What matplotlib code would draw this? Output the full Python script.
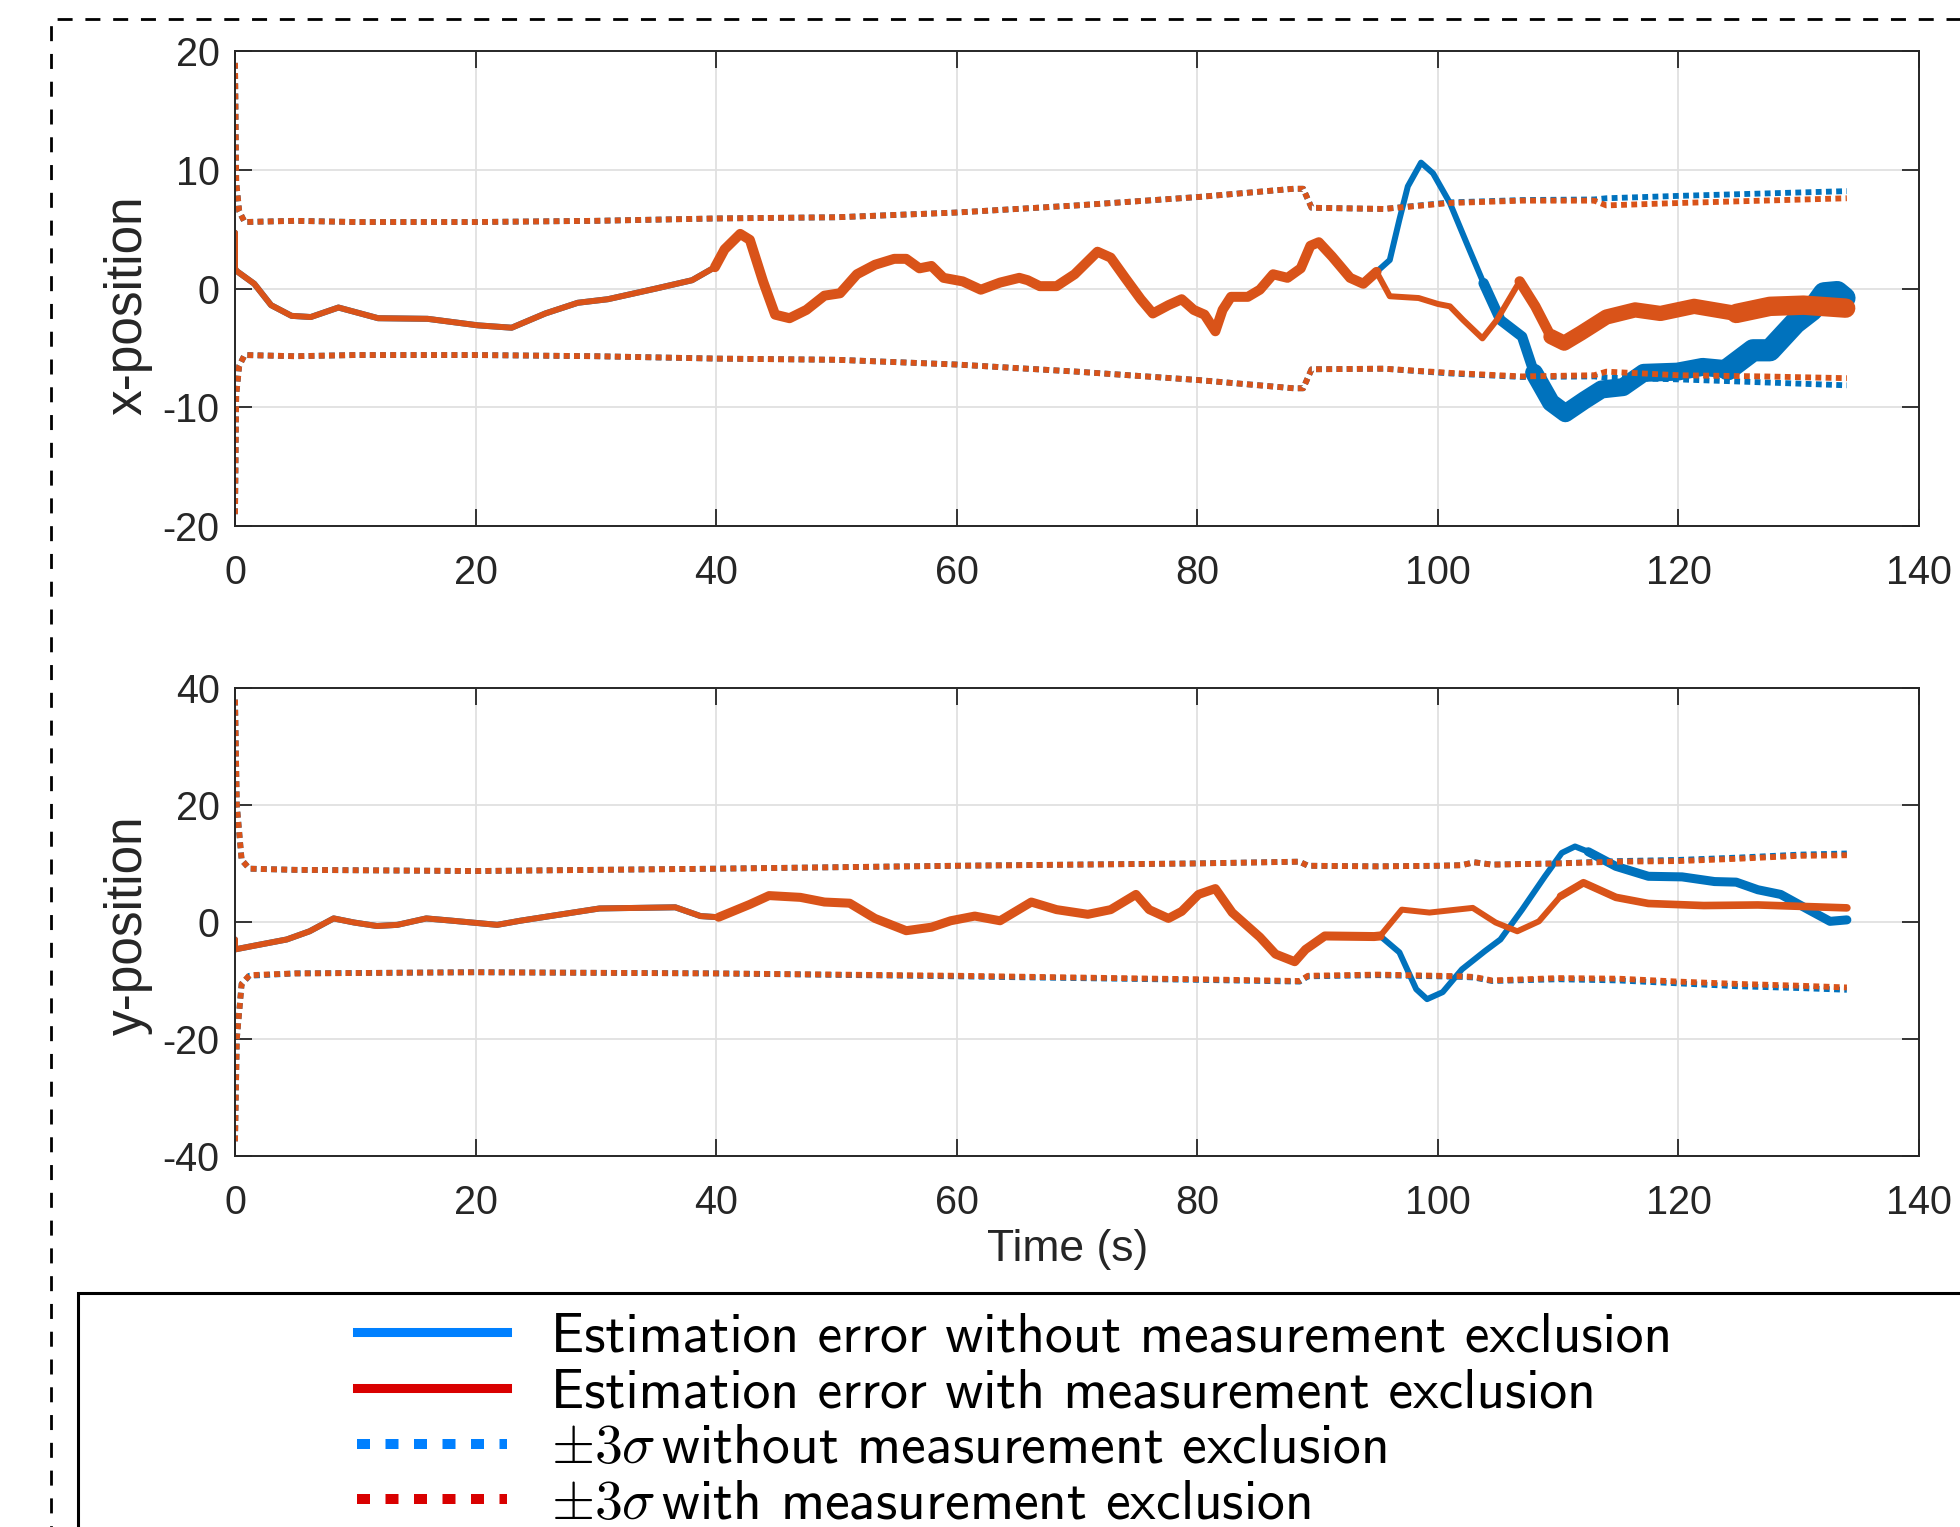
import matplotlib.pyplot as plt
import numpy as np
from matplotlib.lines import Line2D
from matplotlib.patches import Rectangle

plt.rcParams["font.family"] = ["Liberation Sans", "DejaVu Sans"]
plt.rcParams["axes.unicode_minus"] = False
plt.rcParams["mathtext.fontset"] = "cm"

BLUE = "#0072bd"
ORANGE = "#d95319"

# ---- x-position ----
x_t_with = [0, 0, 0.1, 1.6, 3.0, 4.7, 6.3, 8.6, 11.9, 16.0, 20.2, 23.0, 25.8, 28.5, 31.0, 35.0, 38.0,
            39.9, 40.7, 42.0, 42.8, 43.9, 44.9, 46.1, 47.5, 49.0, 50.3, 51.7, 53.2, 54.8, 55.8, 56.9,
            57.9, 58.9, 60.5, 62.0, 63.6, 65.2, 65.9, 66.9, 68.3, 69.8, 71.7, 72.8, 74.0, 75.3, 76.3,
            77.6, 78.7, 79.7, 80.6, 81.5, 82.1, 82.8, 84.2, 85.2, 86.3, 87.5, 88.6, 89.4, 90.1, 91.2,
            92.7, 93.8, 94.9, 96.0, 98.4, 100.0, 101.0, 102.1, 103.7, 104.9, 106.8, 108.1, 109.4,
            110.5, 111.9, 114.0, 116.4, 118.5, 121.3, 124.8, 127.6, 130.4, 133.9]
x_err_with = [4.7, 1.7, 1.5, 0.4, -1.4, -2.3, -2.4, -1.6, -2.5, -2.55, -3.1, -3.3, -2.1, -1.2, -0.9, 0.0, 0.7,
              1.8, 3.3, 4.6, 4.1, 0.6, -2.2, -2.5, -1.8, -0.6, -0.4, 1.2, 2.0, 2.5, 2.5, 1.7,
              1.9, 0.9, 0.6, -0.1, 0.5, 0.9, 0.7, 0.2, 0.2, 1.2, 3.1, 2.6, 0.9, -0.9, -2.1,
              -1.4, -0.9, -1.8, -2.2, -3.6, -1.8, -0.7, -0.7, -0.1, 1.2, 0.9, 1.7, 3.6, 3.9, 2.7,
              0.9, 0.4, 1.4, -0.65, -0.8, -1.3, -1.5, -2.65, -4.2, -2.65, 0.6, -1.5, -4.05,
              -4.6, -3.75, -2.4, -1.8, -2.1, -1.5, -2.1, -1.5, -1.4, -1.65]
# without exclusion: identical up to t = 94.9
x_t_without = x_t_with[:65] + [96.0, 96.8, 97.5, 98.6, 99.6, 101.0, 102.4, 103.8, 105.2, 107.0, 108.0, 109.4,
                               110.6, 112.2, 113.6, 115.4, 117.1, 119.9, 122.0, 124.1, 126.2, 127.6, 129.7,
                               131.1, 132.1, 133.2, 133.8]
x_err_without = x_err_with[:65] + [2.4, 5.8, 8.6, 10.6, 9.7, 7.2, 3.8, 0.45, -2.65, -4.05, -7.1, -9.6,
                                   -10.5, -9.4, -8.5, -8.3, -7.1, -7.0, -6.6, -6.8, -5.2, -5.2, -2.9,
                                   -1.8, -0.4, -0.3, -0.8]

x_sig_t = [0, 0.1, 0.35, 0.8, 5, 10, 20, 30, 40, 50, 60, 70, 80, 88, 88.8, 89.5, 95.5, 101, 107, 113, 114,
           120, 127, 134]
x_sig_with = [19, 9, 6.5, 5.6, 5.7, 5.6, 5.6, 5.7, 5.9, 6.0, 6.4, 7.0, 7.7, 8.4, 8.4, 6.8, 6.7, 7.2, 7.4,
              7.4, 7.0, 7.2, 7.4, 7.6]
x_sig_with_lo = [-19, -9, -6.5, -5.6, -5.7, -5.6, -5.6, -5.7, -5.9, -6.0, -6.4, -7.0, -7.7, -8.4, -8.4,
                 -6.8, -6.75, -7.1, -7.4, -7.3, -7.0, -7.3, -7.4, -7.55]
x_sig_without = [19, 9, 6.5, 5.6, 5.7, 5.6, 5.6, 5.7, 5.9, 6.0, 6.4, 7.0, 7.7, 8.4, 8.4, 6.8, 6.7, 7.25,
                 7.45, 7.5, 7.6, 7.8, 8.0, 8.2]
x_sig_without_lo = [-19, -9, -6.5, -5.6, -5.7, -5.6, -5.6, -5.7, -5.9, -6.0, -6.4, -7.0, -7.7, -8.4, -8.4,
                    -6.8, -6.75, -7.15, -7.45, -7.4, -7.5, -7.65, -7.9, -8.15]

# ---- y-position ----
y_t_with = [0, 0, 1.5, 4.3, 6.2, 8.2, 9.9, 11.8, 13.5, 15.9, 18.1, 21.8, 23.7, 26.2, 30.3, 36.6, 38.7, 40.2,
            42.8, 44.4, 47.0, 49.0, 51.1, 53.2, 55.8, 57.9, 59.5, 61.5, 63.6, 66.2, 68.3, 70.9, 72.8,
            74.9, 76.0, 77.6, 78.7, 80.1, 81.5, 82.9, 85.2, 86.5, 88.1, 89.0, 90.6, 94.7, 95.2, 97.0,
            99.3, 102.9, 104.8, 106.6, 108.4, 110.2, 112.1, 114.8, 117.5, 122.1, 126.6, 134.0]
y_err_with = [-3.0, -4.7, -4.1, -3.0, -1.6, 0.6, -0.1, -0.7, -0.5, 0.6, 0.2, -0.5, 0.2, 1.0, 2.3, 2.5, 1.0, 0.8,
              3.0, 4.5, 4.2, 3.4, 3.2, 0.6, -1.5, -0.9, 0.2, 1.0, 0.2, 3.4, 2.1, 1.3, 2.1,
              4.7, 2.1, 0.6, 1.8, 4.7, 5.7, 1.6, -2.6, -5.5, -6.8, -4.7, -2.4, -2.5, -2.4, 2.1,
              1.6, 2.4, -0.1, -1.6, 0.1, 4.4, 6.7, 4.2, 3.15, 2.8, 2.9, 2.4]
# without exclusion: identical up to t = 95.2
y_t_without = y_t_with[:47] + [96.8, 98.2, 99.1, 100.4, 102.0, 103.9, 105.2, 107.0, 108.9, 110.3, 111.4,
                               112.5, 114.8, 117.5, 120.3, 123.0, 124.8, 126.6, 128.5, 130.8, 132.6, 134.0]
y_err_without = y_err_with[:47] + [-5.2, -11.5, -13.2, -12.0, -8.1, -5.0, -3.0, 2.1, 7.8, 11.8, 12.9,
                                   12.0, 9.5, 7.8, 7.7, 6.9, 6.8, 5.5, 4.7, 2.1, 0.1, 0.35]

y_sig_t = [0, 0.15, 0.55, 1.2, 5, 20, 40, 60, 80, 88.5, 89.2, 95, 100, 102, 103, 104.5, 110, 115, 120, 125,
           130, 134]
y_sig_with = [38, 20, 10.6, 9.1, 8.9, 8.7, 9.1, 9.6, 10.0, 10.3, 9.6, 9.5, 9.6, 9.7, 10.2, 9.8, 10.0, 10.3,
              10.4, 10.8, 11.3, 11.4]
y_sig_with_lo = [-37.5, -20, -10.6, -9.1, -8.8, -8.6, -8.8, -9.2, -9.8, -10.1, -9.2, -9.0, -9.2, -9.3, -9.4,
                 -10.0, -9.6, -9.7, -10.2, -10.6, -10.9, -11.2]
y_sig_without = [38, 20, 10.6, 9.1, 8.9, 8.7, 9.1, 9.6, 10.0, 10.3, 9.6, 9.5, 9.6, 9.7, 10.2, 9.8, 10.0,
                 10.4, 10.6, 11.0, 11.5, 11.7]
y_sig_without_lo = [-37.5, -20, -10.6, -9.2, -8.8, -8.6, -8.8, -9.3, -9.9, -10.2, -9.3, -9.1, -9.3, -9.4,
                    -9.5, -10.1, -9.8, -10.0, -10.5, -11.0, -11.3, -11.6]

labels = ["Estimation error without measurement exclusion",
          "Estimation error with measurement exclusion",
          r"$\pm3\sigma\,$without measurement exclusion",
          r"$\pm3\sigma\,$with measurement exclusion"]

DOT = (0, (1, 0.75))


def thick_line(ax, t, v, color, base, parts):
    # the traces get visibly "fatter" in some stretches, mimic that with overlays
    t = np.asarray(t)
    v = np.asarray(v)
    ax.plot(t, v, color=color, lw=base, solid_capstyle="round", solid_joinstyle="round")
    for t0, t1, lw in parts:
        m = (t >= t0) & (t <= t1)
        ax.plot(t[m], v[m], color=color, lw=lw, solid_capstyle="round", solid_joinstyle="round")


fig = plt.figure(figsize=(19.6, 15.27), dpi=100)
ax1 = fig.add_axes([0.1199, 0.6555, 0.8592, 0.3111])
ax2 = fig.add_axes([0.1199, 0.2430, 0.8592, 0.3065])

# x panel
thick_line(ax1, x_t_without, x_err_without, BLUE, 4.3,
           [(103.8, 110.6, 7.5), (108.0, 126.5, 13), (124.1, 134, 16)])
thick_line(ax1, x_t_with, x_err_with, ORANGE, 4.3,
           [(39.9, 94.9, 7.2), (106.8, 110.5, 7.5), (109.4, 127.6, 11), (124.8, 134, 14)])
for lo, hi, c in [(x_sig_without_lo, x_sig_without, BLUE), (x_sig_with_lo, x_sig_with, ORANGE)]:
    ax1.plot(x_sig_t, hi, color=c, lw=4.2, ls=DOT, dash_capstyle="butt")
    ax1.plot(x_sig_t, lo, color=c, lw=4.2, ls=DOT, dash_capstyle="butt")

# y panel
thick_line(ax2, y_t_without, y_err_without, BLUE, 4.3, [(112.5, 134, 6.5)])
thick_line(ax2, y_t_with, y_err_with, ORANGE, 4.3, [(40.2, 95.2, 6.5), (110.2, 134, 5.5)])
for lo, hi, c in [(y_sig_without_lo, y_sig_without, BLUE), (y_sig_with_lo, y_sig_with, ORANGE)]:
    ax2.plot(y_sig_t, hi, color=c, lw=4.2, ls=DOT, dash_capstyle="butt")
    ax2.plot(y_sig_t, lo, color=c, lw=4.2, ls=DOT, dash_capstyle="butt")

for ax, lim, step in [(ax1, 20, 10), (ax2, 40, 20)]:
    ax.set_xlim(0, 140)
    ax.set_ylim(-lim, lim)
    ax.set_xticks(np.arange(0, 141, 20))
    ax.set_yticks(np.arange(-lim, lim + 1, step))
    ax.grid(True, color="#e0e0e0", lw=1.3)
    ax.set_axisbelow(True)
    ax.tick_params(direction="in", length=12, width=1.3, top=True, right=True,
                   labelsize=28.5, colors="#262626")
    ax.tick_params(axis="x", pad=20)
    ax.tick_params(axis="y", pad=11)
    for s in ax.spines.values():
        s.set_color("#262626")
        s.set_linewidth(1.4)

ax1.set_ylabel("x-position", fontsize=37, color="#262626")
ax1.yaxis.set_label_coords(-0.049, 0.464)
ax2.set_ylabel("y-position", fontsize=37, color="#262626")
ax2.yaxis.set_label_coords(-0.049, 0.493)
ax2.set_xlabel("Time (s)", fontsize=32, color="#262626")
ax2.xaxis.set_label_coords(0.4947, -0.156)

# outer dashed frame and legend box (both run off the page)
fig.patches.append(Rectangle((0.026, -0.5), 2, 1.4876, transform=fig.transFigure, fill=False,
                             ec="black", lw=2, ls=(0, (5.4, 4.6))))
fig.patches.append(Rectangle((0.0398, -0.5), 2, 0.6532, transform=fig.transFigure, fill=False,
                             ec="black", lw=2.2))

handles = [Line2D([], [], color="#0080ff", lw=6.5),
           Line2D([], [], color="#d90000", lw=6.5),
           Line2D([], [], color="#0080ff", lw=7.2, ls=(0, (1.3, 1.55)), dash_capstyle="butt"),
           Line2D([], [], color="#d90000", lw=7.2, ls=(0, (1.3, 1.55)), dash_capstyle="butt")]
fig.legend(handles, labels, loc="upper left", bbox_to_anchor=(0.182, 0.1402),
           bbox_transform=fig.transFigure, frameon=False, prop={"family": "cmss10", "size": 40},
           handlelength=2.7, handletextpad=0.8, borderpad=0, borderaxespad=0, labelspacing=0.1)

fig.savefig("out.png", dpi=100)
